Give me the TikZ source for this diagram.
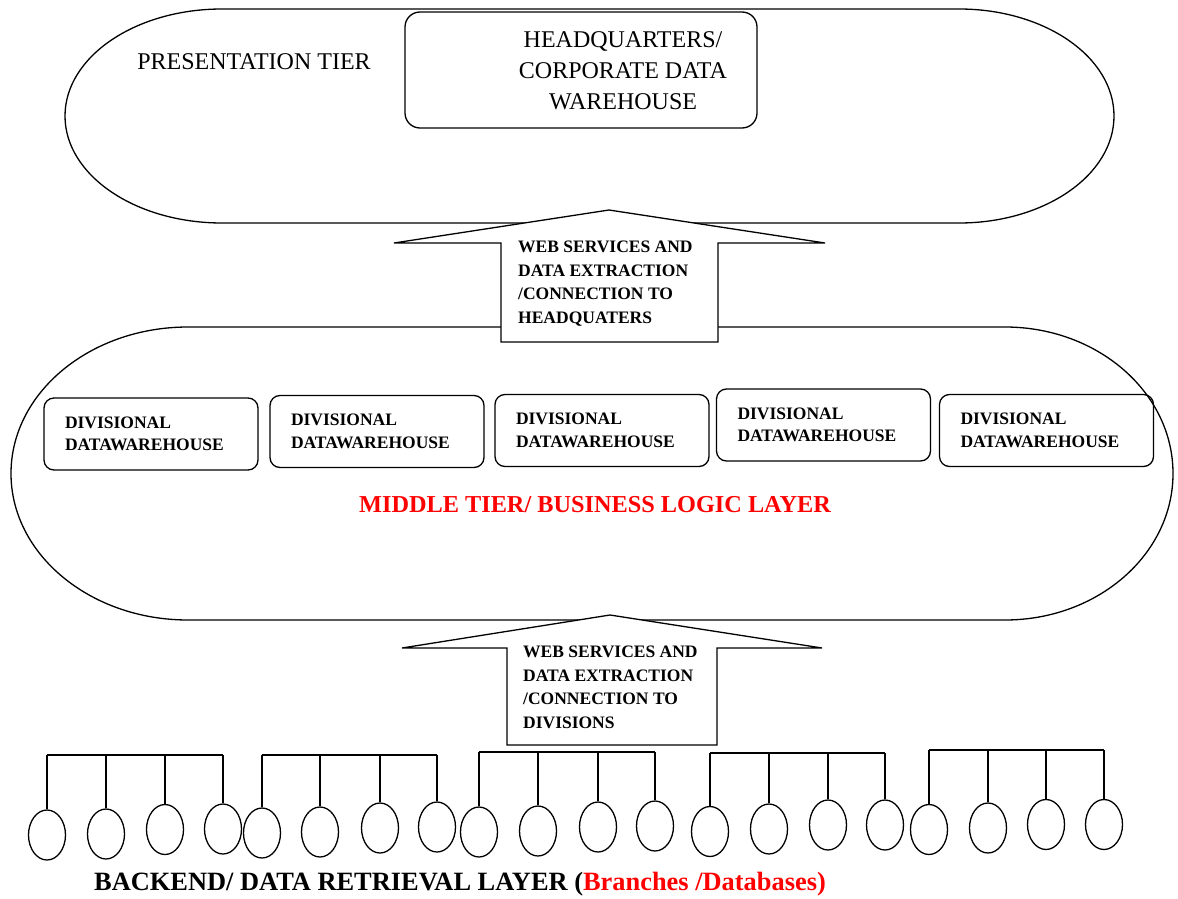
\documentclass[tikz,border=0pt]{standalone}
\usepackage{fontspec}
\setmainfont{Liberation Serif}
\usetikzlibrary{shapes.geometric}
\definecolor{tierred}{RGB}{255,0,0}
\tikzset{
  tier/.style={draw, line width=1.3pt},
  flowarrow/.style={draw, fill=white, line width=1.3pt, line join=miter},
  hqbox/.style={draw, line width=1.3pt, rounded corners=15pt, minimum width=352pt, minimum height=116pt},
  divbox/.style={draw, line width=1.3pt, rounded corners=10pt, minimum width=214pt, minimum height=72pt,
    text width=172pt, align=left, inner sep=0pt, font=\fontsize{17.5}{22.5}\selectfont\bfseries},
  linktext/.style={anchor=north west, align=left, inner sep=0pt, font=\fontsize{17.5}{23.5}\selectfont\bfseries},
  db/.style={draw, ellipse, line width=1.3pt, minimum width=37pt, minimum height=50pt, inner sep=0pt},
  tree/.style={line width=1.6pt}
}
\begin{document}
\begin{tikzpicture}\begin{scope}[x=1pt,y=-1pt]
\useasboundingbox (0,0) rectangle (1178,899);
%tiers
\draw[tier] (222,9) -- (959,9) arc[start angle=90,end angle=-90,x radius=155pt,y radius=107pt]
  -- (222,223) arc[start angle=270,end angle=90,x radius=157pt,y radius=107pt] -- cycle; %presentation
\draw[tier] (188,327) -- (1005,327) arc[start angle=90,end angle=-90,x radius=168pt,y radius=146.5pt]
  -- (188,620) arc[start angle=270,end angle=90,x radius=177pt,y radius=146.5pt] -- cycle; %middle
%arrows
\draw[flowarrow] (609,210) -- (825,243) -- (718,243) -- (718,342) -- (501,342) -- (501,243) -- (394,243) -- cycle;
\draw[flowarrow] (610,615) -- (822,648) -- (717,648) -- (717,745) -- (507,745) -- (507,648) -- (402,648) -- cycle;
\node[linktext] (hqlink) at (518,241) {WEB SERVICES AND\\DATA EXTRACTION\\/CONNECTION TO\\HEADQUATERS};
\node[linktext] (divlink) at (523,646) {WEB SERVICES AND\\DATA EXTRACTION\\/CONNECTION TO\\DIVISIONS};
%presentation tier
\node[font=\fontsize{24}{31}\selectfont] (prestier) at (254,62) {PRESENTATION TIER};
\node[hqbox] (hq) at (581,70) {};
\node[font=\fontsize{24}{31}\selectfont, align=center] (hqtext) at (623,71) {HEADQUARTERS/\\CORPORATE DATA\\WAREHOUSE};
%middle tier
\foreach \i/\x/\y in {1/151/434,2/377/431.5,3/602/430.5,4/823.5/425,5/1046.5/430.5}
  \node[divbox] (div\i) at (\x,\y) {DIVISIONAL\\DATAWAREHOUSE};
\node[font=\fontsize{24.3}{30}\selectfont\bfseries, text=tierred] (midtier) at (595,505) {MIDDLE TIER/ BUSINESS LOGIC LAYER};
%backend
\foreach \i/\x/\y in {1/47/835,2/106/834,3/165/829.5,4/223/829,5/262/833,6/320/832,7/380/828,8/437/827,
  9/479/832,10/538/831,11/598/827,12/655/826,13/710/831.5,14/769/829,15/828/825,16/885/825,
  17/929/829.5,18/988/828,19/1046/824.5,20/1104/824.5}
  \node[db] (db\i) at (\x,\y) {};
\foreach \a/\h in {1/755,5/755,9/752,13/753,17/750}{
  \pgfmathtruncatemacro\b{\a+3}
  \coordinate (bar\a) at (0,\h);
  \draw[tree] (db\a.north |- bar\a) -- (db\b.north |- bar\a);
  \foreach \k in {\a,...,\b} \draw[tree] (db\k.north |- bar\a) -- (db\k.north);
}
\node[font=\fontsize{26.4}{30}\selectfont\bfseries] (backend) at (460,884)
  {BACKEND/ DATA RETRIEVAL LAYER (\textcolor{tierred}{Branches /Databases)}};
\end{scope}
\end{tikzpicture}
\end{document}
